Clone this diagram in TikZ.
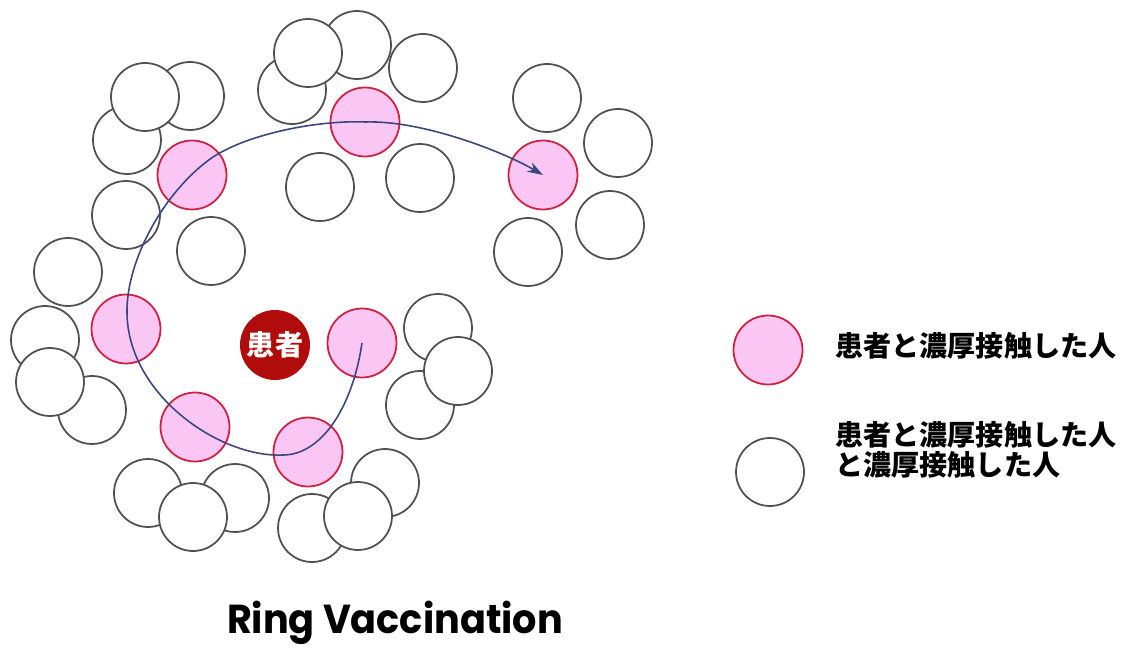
\documentclass[tikz,border=0pt]{standalone}
\usepackage{fontspec}
\usepackage{graphicx}
\newfontfamily\jp{Noto Sans CJK JP}
\newfontfamily\titlefont{Poppins}
\usetikzlibrary{arrows.meta}
\definecolor{pinkfill}{RGB}{250,198,244}
\definecolor{pinkline}{RGB}{208,32,62}
\definecolor{patient}{RGB}{176,12,12}
\definecolor{grayline}{RGB}{80,80,80}
\definecolor{curveblue}{RGB}{58,70,128}
\begin{document}
\begin{tikzpicture}[x=0.02cm,y=-0.02cm,
  person/.style={circle,draw=grayline,fill=white,line width=1pt,minimum size=1.36cm,inner sep=0pt},
  contact/.style={circle,draw=pinkline,fill=pinkfill,line width=1pt,minimum size=1.38cm,inner sep=0pt},
  case/.style={circle,fill=patient,minimum size=1.4cm,inner sep=0pt,text=white,font=\jp\bfseries\fontsize{16pt}{18pt}\selectfont},
  legendtext/.style={anchor=west,align=left,inner sep=0pt,font=\jp\bfseries\fontsize{16pt}{17pt}\selectfont},
  ringpath/.style={draw=curveblue,line width=0.9pt}]
\useasboundingbox[fill=white] (0,0) rectangle (1135,648);
% white circles (hidden ones first)
\node[person] (w1) at (127,140) {};
\node[person] (w2) at (190,96) {};
\node[person] (w3) at (145,97) {};
\node[person] (w4) at (126,215) {};
\node[person] (w5) at (68,272) {};
\node[person] (w6) at (211,251) {};
\node[person] (w7) at (292,90) {};
\node[person] (w8) at (357,45) {};
\node[person] (w9) at (308,53) {};
\node[person] (w10) at (423,68) {};
\node[person] (w11) at (320,187) {};
\node[person] (w12) at (420,178) {};
\node[person] (w13) at (547,98) {};
\node[person] (w14) at (618,143) {};
\node[person] (w15) at (610,225) {};
\node[person] (w16) at (528,252) {};
\node[person] (w17) at (45,340) {};
\node[person] (w18) at (92,410) {};
\node[person] (w19) at (50,382) {};
\node[person] (w20) at (438,328) {};
\node[person] (w21) at (420,405) {};
\node[person] (w22) at (458,371) {};
\node[person] (w23) at (148,493) {};
\node[person] (w24) at (235,498) {};
\node[person] (w25) at (193,517) {};
\node[person] (w26) at (385,483) {};
\node[person] (w27) at (312,528) {};
\node[person] (w28) at (358,516) {};
% contacts
\node[contact] (c1) at (192,175) {};
\node[contact] (c2) at (365,122) {};
\node[contact] (c3) at (543,175) {};
\node[contact] (c4) at (126,329) {};
\node[contact] (c5) at (362,343) {};
\node[contact] (c6) at (195,427) {};
\node[contact] (c7) at (308,452) {};
% patient
\node[case] (pt) at (275,345) {患者};
% ring path
\coordinate (b1) at (283,455);
\coordinate (b2) at (127,313);
\coordinate (b3) at (213,157);
\draw[ringpath,-{Stealth[length=9pt,width=6pt]}] (c5.center)
  .. controls (352,410) and (320,455) .. (b1)
  .. controls (220,458) and (128,395) .. (b2)
  .. controls (126,260) and (165,190) .. (b3)
  .. controls (250,133) and (320,120) .. (c2.center)
  .. controls (420,120) and (500,150) .. (c3.center);
% legend
\node[contact] (lc) at (768,350) {};
\node[person] (lw) at (770,472) {};
\node[legendtext] (lt1) at (835,346) {患者と濃厚接触した人};
\node[legendtext] (lt2) at (835,450) {患者と濃厚接触した人\\と濃厚接触した人};
% title
\node[anchor=base,inner sep=0pt] (title) at (395,633) {\resizebox{6.72cm}{\height}{\titlefont\bfseries\fontsize{23pt}{28pt}\selectfont Ring Vaccination}};
\end{tikzpicture}
\end{document}
